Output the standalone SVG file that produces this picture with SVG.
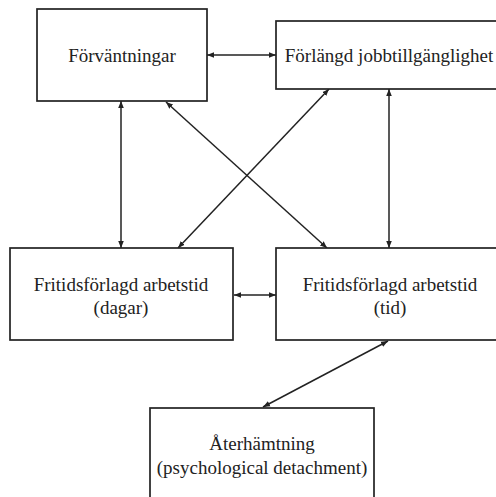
<svg xmlns="http://www.w3.org/2000/svg" width="496" height="497" viewBox="0 0 496 497">
<style>
.box{fill:#fff;stroke:#222;stroke-width:1.7}
.t{font-family:"Liberation Serif","Times New Roman",serif;font-size:19px;fill:#222;text-anchor:middle;dominant-baseline:central}
.c{stroke:#222;stroke-width:1.5;fill:none;marker-start:url(#a);marker-end:url(#a)}
</style>
<defs>
<marker id="a" viewBox="0 0 10 10" refX="10" refY="5" markerWidth="7" markerHeight="7" orient="auto-start-reverse" markerUnits="userSpaceOnUse">
<path d="M0,1 L10,5 L0,9 Z" fill="#222"/>
</marker>
</defs>
<rect width="496" height="497" fill="#fff"/>
<g id="connectors">
<line class="c" x1="207" y1="55" x2="276" y2="55"/>
<line class="c" x1="121" y1="101" x2="121" y2="248"/>
<line class="c" x1="166" y1="102" x2="327" y2="248"/>
<line class="c" x1="329" y1="89" x2="178" y2="248"/>
<line class="c" x1="389" y1="89" x2="389" y2="248"/>
<line class="c" x1="234" y1="295" x2="276" y2="295"/>
<line class="c" x1="388" y1="341" x2="263" y2="407"/>
</g>
<g id="n1">
<rect class="box" x="37" y="9" width="170" height="92"/>
<text class="t" x="122" y="55">Förväntningar</text>
</g>
<g id="n2">
<rect class="box" x="276" y="21" width="226" height="68"/>
<text class="t" x="389" y="55">Förlängd jobbtillgänglighet</text>
</g>
<g id="n3">
<rect class="box" x="10" y="248" width="223" height="92"/>
<text class="t" x="121" y="284">Fritidsförlagd arbetstid</text>
<text class="t" x="121" y="307">(dagar)</text>
</g>
<g id="n4">
<rect class="box" x="276" y="248" width="226" height="92"/>
<text class="t" x="390" y="284">Fritidsförlagd arbetstid</text>
<text class="t" x="390" y="307">(tid)</text>
</g>
<g id="n5">
<rect class="box" x="150" y="408" width="224" height="100"/>
<text class="t" x="262" y="443">Återhämtning</text>
<text class="t" x="262" y="467">(psychological detachment)</text>
</g>
</svg>
